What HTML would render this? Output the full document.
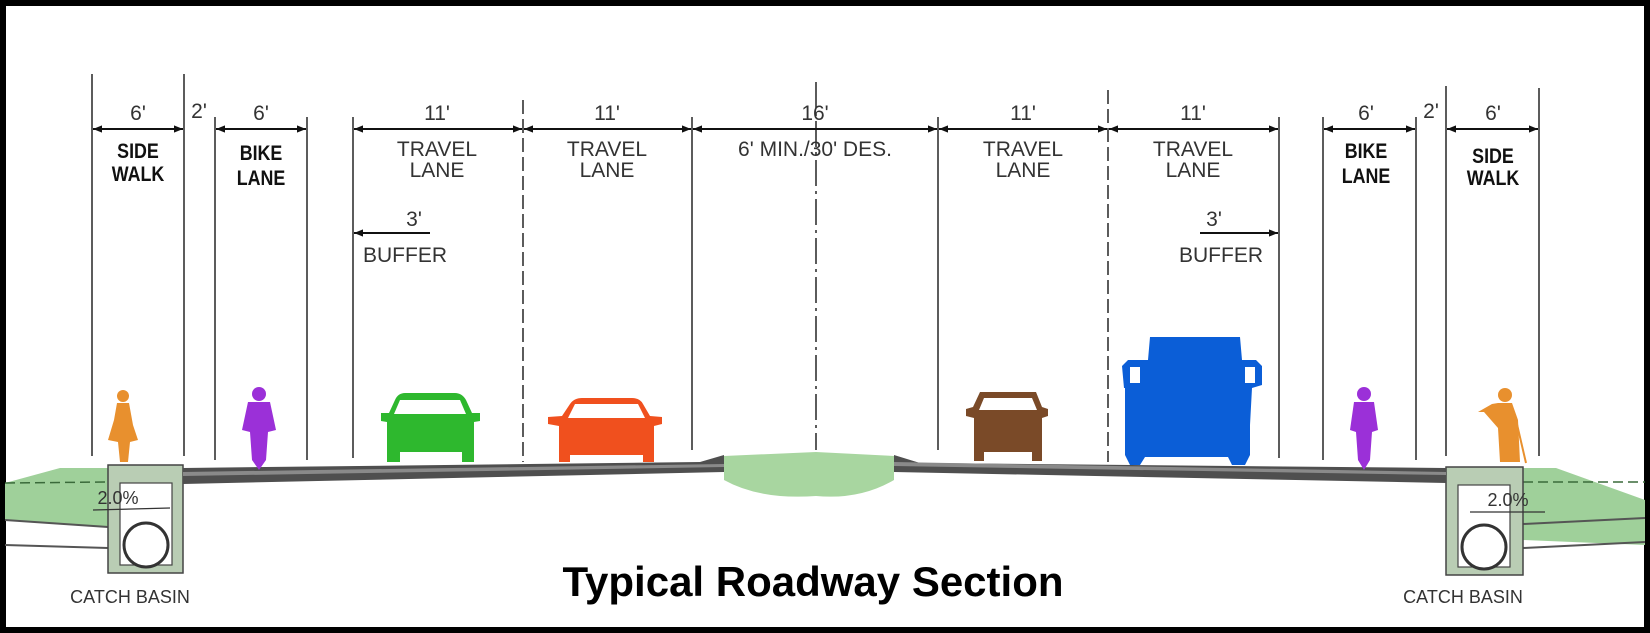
<!DOCTYPE html>
<html><head><meta charset="utf-8"><style>
html,body{margin:0;padding:0;background:#fff;}
svg{display:block;}
.t{font-family:"Liberation Sans",sans-serif;fill:#333;font-size:21px;text-anchor:middle;}
.b{font-family:"Liberation Sans",sans-serif;fill:#111;font-size:21px;text-anchor:middle;}
</style></head><body>
<svg width="1650" height="633" viewBox="0 0 1650 633" xmlns="http://www.w3.org/2000/svg">
<defs>
<marker id="ar" viewBox="0 0 10 10" refX="10" refY="5" markerWidth="18" markerHeight="9" markerUnits="userSpaceOnUse" orient="auto-start-reverse"><path d="M0,1 L10,5 L0,9 z" fill="#111"/></marker>
</defs>
<rect x="0" y="0" width="1650" height="633" fill="#fff"/>
<rect x="3" y="3" width="1644" height="627" fill="none" stroke="#000" stroke-width="6"/>

<g stroke="#333" stroke-width="1.6">
<line x1="92" y1="74" x2="92" y2="456"/>
<line x1="184" y1="74" x2="184" y2="456"/>
<line x1="215" y1="117" x2="215" y2="460"/>
<line x1="307" y1="117" x2="307" y2="460"/>
<line x1="353" y1="117" x2="353" y2="458"/>
<line x1="692" y1="117" x2="692" y2="450"/>
<line x1="938" y1="117" x2="938" y2="450"/>
<line x1="1279" y1="117" x2="1279" y2="458"/>
<line x1="1323" y1="117" x2="1323" y2="460"/>
<line x1="1416" y1="117" x2="1416" y2="460"/>
<line x1="1446" y1="86" x2="1446" y2="456"/>
<line x1="1539" y1="88" x2="1539" y2="456"/>
<line x1="523" y1="100" x2="523" y2="462" stroke-dasharray="14,5"/>
<line x1="1108" y1="90" x2="1108" y2="462" stroke-dasharray="14,5"/>
<line x1="816" y1="82" x2="816" y2="450" stroke-dasharray="26,5,3,5"/>
</g>

<g stroke="#111" stroke-width="2" marker-start="url(#ar)" marker-end="url(#ar)">
<line x1="93" y1="129" x2="183" y2="129"/>
<line x1="216" y1="129" x2="306" y2="129"/>
<line x1="354" y1="129" x2="522" y2="129"/>
<line x1="524" y1="129" x2="691" y2="129"/>
<line x1="693" y1="129" x2="937" y2="129"/>
<line x1="939" y1="129" x2="1107" y2="129"/>
<line x1="1109" y1="129" x2="1278" y2="129"/>
<line x1="1324" y1="129" x2="1415" y2="129"/>
<line x1="1447" y1="129" x2="1538" y2="129"/>
</g>
<line x1="354" y1="233" x2="430" y2="233" stroke="#111" stroke-width="2" marker-start="url(#ar)"/>
<line x1="1200" y1="233" x2="1278" y2="233" stroke="#111" stroke-width="2" marker-end="url(#ar)"/>

<g class="t">
<text x="138" y="120">6'</text>
<text x="199" y="118">2'</text>
<text x="261" y="120">6'</text>
<text x="437" y="120">11'</text>
<text x="607" y="120">11'</text>
<text x="815" y="120">16'</text>
<text x="1023" y="120">11'</text>
<text x="1193" y="120">11'</text>
<text x="1366" y="120">6'</text>
<text x="1431" y="118">2'</text>
<text x="1493" y="120">6'</text>
<text x="437" y="156">TRAVEL</text><text x="437" y="177">LANE</text>
<text x="607" y="156">TRAVEL</text><text x="607" y="177">LANE</text>
<text x="1023" y="156">TRAVEL</text><text x="1023" y="177">LANE</text>
<text x="1193" y="156">TRAVEL</text><text x="1193" y="177">LANE</text>
<text x="815" y="156">6' MIN./30' DES.</text>
<text x="414" y="226">3'</text>
<text x="405" y="262">BUFFER</text>
<text x="1214" y="226">3'</text>
<text x="1221" y="262">BUFFER</text>
<text x="130" y="603" font-size="18">CATCH  BASIN</text>
<text x="1463" y="603" font-size="18">CATCH  BASIN</text>
</g>
<g class="b" font-weight="bold">
<text x="138" y="158" transform="translate(138 0) scale(0.85 1) translate(-138 0)">SIDE</text>
<text x="138" y="181" transform="translate(138 0) scale(0.85 1) translate(-138 0)">WALK</text>
<text x="261" y="160" transform="translate(261 0) scale(0.85 1) translate(-261 0)">BIKE</text>
<text x="261" y="185" transform="translate(261 0) scale(0.85 1) translate(-261 0)">LANE</text>
<text x="1366" y="158" transform="translate(1366 0) scale(0.85 1) translate(-1366 0)">BIKE</text>
<text x="1366" y="183" transform="translate(1366 0) scale(0.85 1) translate(-1366 0)">LANE</text>
<text x="1493" y="163" transform="translate(1493 0) scale(0.85 1) translate(-1493 0)">SIDE</text>
<text x="1493" y="185" transform="translate(1493 0) scale(0.85 1) translate(-1493 0)">WALK</text>
</g>

<path d="M5,483 L60,468 L108,468 L108,527 L5,520 Z" fill="#9fd09a"/>
<line x1="5" y1="483" x2="108" y2="482" stroke="#3a6a3a" stroke-width="1.5" stroke-dasharray="10,5"/>
<line x1="5" y1="520" x2="108" y2="527" stroke="#555" stroke-width="2"/>
<line x1="5" y1="545" x2="108" y2="548" stroke="#555" stroke-width="2"/>
<rect x="108" y="465" width="75" height="108" fill="#b9cdb4" stroke="#444" stroke-width="1.5"/>
<rect x="120" y="483" width="52" height="82" fill="#fff" stroke="#444" stroke-width="1.2"/>
<circle cx="146" cy="545" r="22" fill="#fff" stroke="#333" stroke-width="3"/>
<text x="118" y="504" font-family="Liberation Sans,sans-serif" font-size="18" fill="#333" text-anchor="middle">2.0%</text>
<line x1="93" y1="510" x2="170" y2="508" stroke="#333" stroke-width="1.3"/>
<path d="M1523,468 L1556,468 L1645,500 L1645,545 L1523,540 Z" fill="#9fd09a"/>
<line x1="1523" y1="482" x2="1645" y2="482" stroke="#3a6a3a" stroke-width="1.5" stroke-dasharray="10,5"/>
<line x1="1523" y1="524" x2="1645" y2="518" stroke="#555" stroke-width="2"/>
<line x1="1523" y1="548" x2="1645" y2="542" stroke="#555" stroke-width="2"/>
<rect x="1446" y="467" width="77" height="108" fill="#b9cdb4" stroke="#444" stroke-width="1.5"/>
<rect x="1458" y="485" width="52" height="82" fill="#fff" stroke="#444" stroke-width="1.2"/>
<circle cx="1484" cy="547" r="22" fill="#fff" stroke="#333" stroke-width="3"/>
<text x="1508" y="506" font-family="Liberation Sans,sans-serif" font-size="18" fill="#333" text-anchor="middle">2.0%</text>
<line x1="1470" y1="512" x2="1545" y2="512" stroke="#333" stroke-width="1.3"/>

<!-- road -->
<path d="M183,468 L700,462 L724,455 L724,472 L183,484 Z" fill="#4f4f4f"/>
<path d="M183,472 L724,464 L724,467 L183,476 Z" fill="#8a8a8a"/>
<path d="M894,455 L920,463 L1446,468 L1446,483 L894,472 Z" fill="#4f4f4f"/>
<path d="M894,462 L1446,472 L1446,475 L894,466 Z" fill="#8a8a8a"/>
<path d="M724,456 L816,452 L894,456 L894,480 Q860,500 816,496 Q760,500 724,480 Z" fill="#a8d6a0"/>

<g fill="#e8902e">
<circle cx="123" cy="396" r="6"/>
<path d="M117,403 L129,403 L133,425 L138,440 L130,442 L128,462 L120,462 L118,442 L108,440 L114,420 Z"/>
<circle cx="1505" cy="395" r="7"/>
<path d="M1498,403 L1512,403 L1518,420 L1520,462 L1500,462 L1498,428 L1484,412 L1478,412 L1492,404 Z"/>
<line x1="1516" y1="420" x2="1526" y2="463" stroke="#e8902e" stroke-width="2"/>
</g>
<g fill="#9b30d8">
<circle cx="259" cy="394" r="7"/>
<path d="M248,402 L270,402 L276,430 L268,432 L266,460 L259,470 L252,460 L250,432 L242,430 Z"/>
<circle cx="1364" cy="394" r="7"/>
<path d="M1354,402 L1374,402 L1378,430 L1372,432 L1370,460 L1364,470 L1358,460 L1356,432 L1350,430 Z"/>
</g>

<g>
<path d="M395,400 Q398,393 405,393 L455,393 Q462,393 466,400 L472,413 L480,413 L480,421 L474,422 L474,462 L462,462 L462,452 L400,452 L400,462 L387,462 L387,422 L381,421 L381,413 L389,413 Z" fill="#2eb82e"/>
<path d="M400,400 L460,400 L466,414 L394,414 Z" fill="#fff"/>
<path d="M570,404 Q574,398 582,398 L632,398 Q640,398 643,404 L650,416 L662,417 L662,424 L654,426 L654,462 L643,462 L643,455 L570,455 L570,462 L559,462 L559,426 L548,424 L548,417 L562,416 Z" fill="#f0501e"/>
<path d="M575,404 L638,404 L645,418 L568,418 Z" fill="#fff"/>
<path d="M980,392 L1036,392 L1042,407 L1048,409 L1048,416 L1042,418 L1042,461 L1032,461 L1032,452 L984,452 L984,461 L974,461 L974,418 L966,416 L966,409 L973,407 Z" fill="#7a4a28"/>
<path d="M984,398 L1032,398 L1037,410 L979,410 Z" fill="#fff"/>
<path d="M1150,337 L1240,337 L1242,360 L1256,360 L1262,366 L1262,385 L1252,388 L1250,425 L1250,455 L1245,465 L1232,465 L1228,457 L1145,457 L1140,465 L1130,465 L1125,455 L1125,388 L1124,388 L1122,366 L1128,360 L1148,360 Z" fill="#0b5ed7"/>
<path d="M1130,367 L1140,367 L1140,383 L1130,383 Z M1245,367 L1255,367 L1255,383 L1245,383 Z" fill="#fff"/>
</g>

<text x="813" y="596" font-family="Liberation Sans,sans-serif" font-weight="bold" font-size="42" fill="#000" text-anchor="middle">Typical Roadway Section</text>
</svg>
</body></html>
